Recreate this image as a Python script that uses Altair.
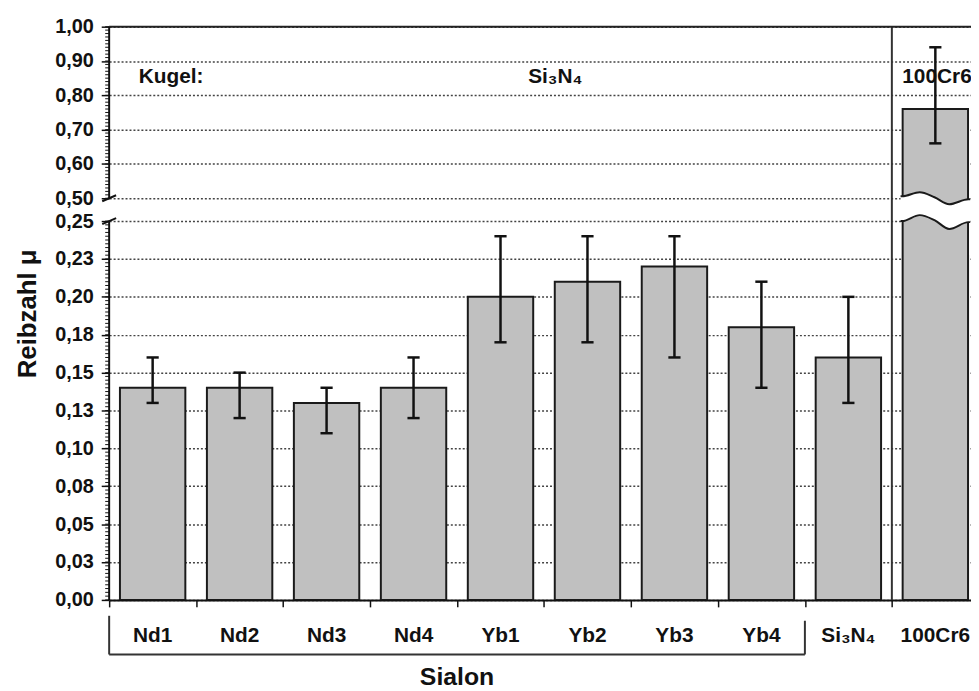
import altair as alt
import pandas as pd
import numpy as np

# ---------------- data ----------------
categories = ["Nd1", "Nd2", "Nd3", "Nd4", "Yb1", "Yb2", "Yb3", "Yb4", "Si₃N₄", "100Cr6"]
mu_mean = [0.14, 0.14, 0.13, 0.14, 0.20, 0.21, 0.22, 0.18, 0.16, 0.76]
mu_low = [0.13, 0.12, 0.11, 0.12, 0.17, 0.17, 0.16, 0.14, 0.13, 0.66]
mu_high = [0.16, 0.15, 0.14, 0.16, 0.24, 0.24, 0.24, 0.21, 0.20, 0.94]

y_ticks_low = [0.0, 0.025, 0.05, 0.075, 0.1, 0.125, 0.15, 0.175, 0.2, 0.225, 0.25]
y_ticks_high = [0.5, 0.6, 0.7, 0.8, 0.9, 1.0]
x_boundaries = [-0.5, 0.5, 1.5, 2.5, 3.5, 4.5, 5.5, 6.5, 7.5, 8.5]

# wavy cut of the 100Cr6 bar (x in category units, y in data units)
wave_x = [8.60, 8.62, 8.82, 8.99, 9.16, 9.38, 9.40]
wave_top = [0.5058, 0.5058, 0.5173, 0.5029, 0.4348, 0.489, 0.489]
wave_bottom = [0.25, 0.25, 0.3152, 0.2609, 0.2448, 0.2493, 0.2493]

annotations = ["Kugel:", "Si₃N₄", "100Cr6"]
annot_x = [-0.16, 4.63, 8.62]
annot_y = [0.853, 0.853, 0.853]
annot_align = ["left", "center", "left"]

FONT = "Liberation Sans"
W, H = 869, 578

df = pd.DataFrame({
    "i": list(range(len(categories))),
    "cat": categories,
    "mean": mu_mean,
    "lo": mu_low,
    "hi": mu_high,
})

x_scale = alt.Scale(domain=[-0.5, 9.41], nice=False, zero=False)
y_scale = alt.Scale(domain=[0, 0.25, 0.5, 1.0], range=[H, 196, 173, 0], nice=False, zero=False)

x_axis = alt.Axis(values=x_boundaries, labels=False, tickSize=7, tickColor="#111",
                  tickWidth=1.5, domainColor="#111", domainWidth=2, grid=False, title=None)
y_axis = alt.Axis(values=y_ticks_low + y_ticks_high,
                  labelExpr="replace(format(datum.value + 0.000001, '.2f'), '.', ',')",
                  labelFont=FONT, labelFontSize=20, labelFontWeight="bold", labelColor="#111",
                  labelPadding=8, labelOverlap=False, labelFlush=False,
                  tickSize=8, tickColor="#111", tickWidth=1.5, domain=False,
                  grid=True, gridColor="#444", gridDash=[2, 2], gridWidth=1.5,
                  title="Reibzahl μ", titleFont=FONT, titleFontSize=26, titleFontWeight="bold",
                  titleColor="#111", titlePadding=14)


def X(field):
    return alt.X(field, scale=x_scale, axis=x_axis)


def Y(field):
    return alt.Y(field, scale=y_scale, axis=y_axis)


base = alt.Chart(df).transform_calculate(
    x0="datum.i - 0.376", x1="datum.i + 0.376", base="0",
    c0="datum.i - 0.07", c1="datum.i + 0.07"
)

bars = base.mark_bar(fill="#c0c0c0", stroke="#1a1a1a", strokeWidth=2, clip=True).encode(
    x=X("x0:Q"), x2="x1:Q", y=Y("mean:Q"), y2="base:Q",
)

# wave mask & edges
wave_df = pd.DataFrame({"wx": wave_x, "wt": wave_top, "wb": wave_bottom})
wave_fill = alt.Chart(wave_df).mark_area(fill="white", interpolate="monotone").encode(
    x=X("wx:Q"), y=Y("wt:Q"), y2="wb:Q",
)
wave_long = pd.DataFrame({
    "wx": wave_x + wave_x,
    "wy": wave_top + wave_bottom,
    "edge": ["top"] * len(wave_x) + ["bottom"] * len(wave_x),
})
wave_lines = alt.Chart(wave_long).mark_line(color="#1a1a1a", strokeWidth=2, interpolate="monotone").encode(
    x=X("wx:Q"), y=Y("wy:Q"), detail="edge:N",
)

# error bars
err_line = base.mark_rule(color="#111", strokeWidth=2.5).encode(
    x=X("i:Q"), y=Y("lo:Q"), y2="hi:Q",
)
cap_lo = base.mark_rule(color="#111", strokeWidth=2.5).encode(
    x=X("c0:Q"), x2="c1:Q", y=Y("lo:Q"),
)
cap_hi = base.mark_rule(color="#111", strokeWidth=2.5).encode(
    x=X("c0:Q"), x2="c1:Q", y=Y("hi:Q"),
)

# y-axis line segments (broken)
seg_df = pd.DataFrame({"y0": [0.0, 0.5], "y1": [0.25, 1.0]})
axis_line = alt.Chart(seg_df).mark_rule(color="#111", strokeWidth=2).encode(
    x=alt.value(0), y=Y("y0:Q"), y2="y1:Q",
)
brk_df = pd.DataFrame({"v": [0.25, 0.5]})
breaks = alt.Chart(brk_df).mark_rule(color="#111", strokeWidth=2, yOffset=3, y2Offset=-3).encode(
    x=alt.value(-7), x2=alt.value(7), y=Y("v:Q"), y2="v:Q",
)
minor_vals = list(np.round(np.arange(0, 0.2501, 0.0025), 5)) + list(np.round(np.arange(0.5, 1.0001, 0.01), 4))
minor_df = pd.DataFrame({"v": minor_vals})
minor = alt.Chart(minor_df).mark_rule(color="#111", strokeWidth=1).encode(
    x=alt.value(-4), x2=alt.value(0), y=Y("v:Q"),
)

# frame: top border and separator
top_df = pd.DataFrame({"v": [1.0]})
top_border = alt.Chart(top_df).mark_rule(color="#222", strokeWidth=2).encode(
    x=alt.value(0), x2=alt.value(W), y=Y("v:Q"),
)
sep_df = pd.DataFrame({"sx": [8.5], "y0": [0.0], "y1": [1.0]})
separator = alt.Chart(sep_df).mark_rule(color="#333", strokeWidth=2).encode(
    x=X("sx:Q"), y=Y("y0:Q"), y2="y1:Q",
)

# annotations in the top panel
ann_df = pd.DataFrame({"t": annotations, "ax": annot_x, "ay": annot_y, "al": annot_align})
ann_layers = []
for al in ["left", "center"]:
    ann_layers.append(
        alt.Chart(ann_df[ann_df.al == al]).mark_text(
            align=al, baseline="middle", font=FONT, fontSize=21, fontWeight="bold", color="#111"
        ).encode(x=X("ax:Q"), y=Y("ay:Q"), text="t:N")
    )

# category labels
cat_labels = alt.Chart(df).mark_text(
    baseline="middle", font=FONT, fontSize=21, fontWeight="bold", color="#111"
).encode(x=X("i:Q"), y=alt.value(H + 36), text="cat:N")

# Sialon bracket
brL = pd.DataFrame({"bx": [-0.5]})
brR = pd.DataFrame({"bx": [7.5]})
brH = pd.DataFrame({"bx0": [-0.5], "bx1": [7.5]})
bracket_left = alt.Chart(brL).mark_rule(color="#333", strokeWidth=2).encode(
    x=X("bx:Q"), y=alt.value(H + 16), y2=alt.value(H + 55))
bracket_right = alt.Chart(brR).mark_rule(color="#333", strokeWidth=2).encode(
    x=X("bx:Q"), y=alt.value(H + 21), y2=alt.value(H + 55))
bracket_h = alt.Chart(brH).mark_rule(color="#333", strokeWidth=2).encode(
    x=X("bx0:Q"), x2="bx1:Q", y=alt.value(H + 55))
sialon_df = pd.DataFrame({"sx": [3.5], "t": ["Sialon"]})
sialon = alt.Chart(sialon_df).mark_text(
    baseline="alphabetic", font=FONT, fontSize=25, fontWeight="bold", color="#111"
).encode(x=X("sx:Q"), y=alt.value(H + 86), text="t:N")

chart = alt.layer(
    bars, wave_fill, wave_lines, separator, top_border, *ann_layers,
    err_line, cap_lo, cap_hi, axis_line, breaks, minor,
    cat_labels, bracket_left, bracket_right, bracket_h, sialon,
).properties(
    width=W, height=H,
    autosize=alt.AutoSizeParams(type="none"),
    padding={"left": 102, "top": 16, "right": 0, "bottom": 90},
    background="white",
).configure_view(stroke=None)

chart.save("out.html", embed_options={"renderer": "svg", "actions": False})
